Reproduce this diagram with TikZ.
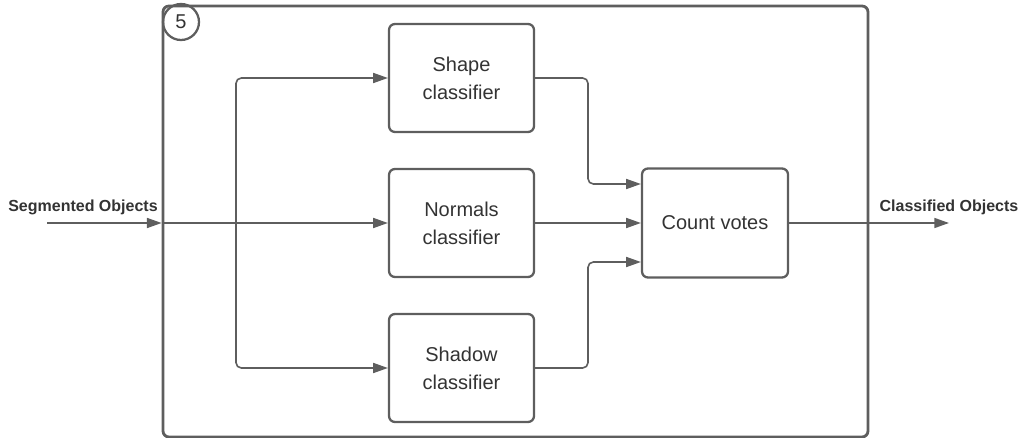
\documentclass[tikz,border=0pt]{standalone}
\usepackage{fontspec}
\setmainfont{Liberation Sans}
\usetikzlibrary{arrows.meta,calc}
\definecolor{ln}{HTML}{5E5E5E}
\definecolor{tx}{HTML}{333333}
\tikzset{
  box/.style={draw=ln, line width=1.7pt, rounded corners=4.5pt, minimum width=108.75pt, minimum height=81pt, align=center, text=tx, font=\fontsize{15}{18}\selectfont, inner sep=0pt},
  conn/.style={draw=ln, line width=1.2pt, rounded corners=4pt, -{Triangle[length=11pt,width=7.5pt]}},
  lbl/.style={text=tx, font=\bfseries\fontsize{12}{14}\selectfont, inner sep=0pt}
}
\begin{document}
\begin{tikzpicture}[x=0.75pt,y=-0.75pt]
\useasboundingbox (0,0) rectangle (1020,438);
\node[draw=ln, line width=2.1pt, rounded corners=4.5pt, minimum width=528.75pt, minimum height=323.25pt, inner sep=0pt] (frame) at (515.5,221.5) {};
\node[draw=ln, line width=1.7pt, circle, minimum size=27pt, inner sep=0pt, text=tx, font=\fontsize{15}{18}\selectfont] (num) at (181,22) {5};
\node[box] (shape) at (461.5,78) {Shape\\[3pt]classifier};
\node[box] (normals) at (461.5,223) {Normals\\[3pt]classifier};
\node[box] (shadow) at (461.5,368) {Shadow\\[3pt]classifier};
\node[box, minimum width=109.5pt, minimum height=81.75pt] (votes) at (715,223) {Count votes};
\coordinate (in) at (47,223);
\coordinate (out) at (949,223);
\coordinate (split) at (236,223);
\node[lbl] (inlbl) at (83,207) {Segmented Objects};
\node[lbl] (outlbl) at (949,207) {Classified Objects};
\draw[conn] (in) -- (frame.west |- in);
\draw[conn] (frame.west |- normals.west) -- (normals.west);
\draw[conn] (split) |- (shape.west);
\draw[conn] (split) |- (shadow.west);
\draw[conn] (shape.east) -| (588,184) -- ($(votes.west)+(0,-39)$);
\draw[conn] (normals.east) -- (normals.east -| votes.west);
\draw[conn] (shadow.east) -| (588,262) -- ($(votes.west)+(0,39)$);
\draw[conn] (votes.east) -- (out);
\end{tikzpicture}
\end{document}
